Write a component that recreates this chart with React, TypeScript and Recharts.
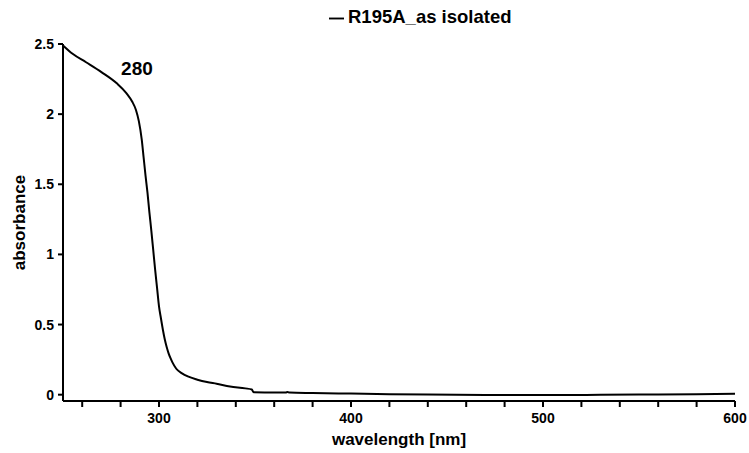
import React from 'react';
import { LineChart, Line, XAxis, YAxis, Legend, ReferenceDot, Label } from 'recharts';

const wavelengths = [250, 255, 262, 270, 278, 283, 286, 288, 289.5, 291, 292, 293, 294, 295, 296, 297, 298, 299, 300, 301, 302, 303, 304, 305, 306, 307, 309, 312, 315, 320, 325, 330, 337, 345, 348.3, 349.3, 355, 366, 367, 368, 380, 400, 420, 440, 470, 500, 530, 560, 600];
const absorbance = [2.49, 2.43, 2.37, 2.30, 2.22, 2.15, 2.09, 2.03, 1.95, 1.82, 1.69, 1.56, 1.44, 1.30, 1.17, 1.03, 0.89, 0.76, 0.63, 0.545, 0.465, 0.395, 0.34, 0.295, 0.26, 0.23, 0.185, 0.152, 0.13, 0.107, 0.09, 0.078, 0.059, 0.045, 0.037, 0.017, 0.016, 0.016, 0.019, 0.015, 0.012, 0.008, 0.004, 0.001, -0.002, -0.003, -0.001, 0.002, 0.006];

const xTicks = [260, 280, 300, 320, 340, 360, 380, 400, 420, 440, 460, 480, 500, 520, 540, 560, 580, 600];
const xLabelled = [300, 400, 500, 600];
const yTicks = [0, 0.5, 1, 1.5, 2, 2.5];
const seriesName = 'R195A_as isolated';
const peakLabel = '280';

const data = wavelengths.map((wl, i) => ({ wl, abs: absorbance[i] }));

const FONT = '"Liberation Sans", Arial, sans-serif';

export default function App() {
  return (
    <div style={{ position: 'absolute', left: 0, top: 0, width: 749, height: 453, background: '#fff' }}>
      <LineChart width={749} height={453} data={data} margin={{ top: 44, right: 14, left: 0, bottom: 0 }}>
        <XAxis
          type="number"
          dataKey="wl"
          domain={[250, 600]}
          ticks={xTicks}
          tickFormatter={(v: number) => (xLabelled.includes(v) ? String(v) : '')}
          height={52}
          stroke="#000"
          strokeWidth={2}
          tickSize={6}
          tickMargin={6}
          tick={{ fill: '#000', fontSize: 14, fontWeight: 'bold', fontFamily: FONT }}
          interval={0}
        >
          <Label value="wavelength [nm]" position="insideBottom" offset={8} style={{ fill: '#000', fontSize: 17, fontWeight: 'bold', fontFamily: FONT }} />
        </XAxis>
        <YAxis
          type="number"
          domain={[-0.045, 2.5]}
          ticks={yTicks}
          tickFormatter={(v: number) => String(v)}
          width={63}
          stroke="#000"
          strokeWidth={2}
          tickSize={5}
          tickMargin={4}
          tick={{ fill: '#000', fontSize: 14, fontWeight: 'bold', fontFamily: FONT }}
          interval={0}
          allowDataOverflow
        >
          <Label value="absorbance" angle={-90} position="insideLeft" offset={19} style={{ fill: '#000', fontSize: 17, fontWeight: 'bold', fontFamily: FONT, textAnchor: 'middle' }} />
        </YAxis>
        <Legend
          verticalAlign="middle"
          align="center"
          layout="horizontal"
          iconType="plainline"
          iconSize={15}
          wrapperStyle={{ top: 6, left: 329, width: 'auto', fontFamily: FONT, fontSize: 18.5, fontWeight: 'bold' }}
          formatter={(value: string) => <span style={{ color: '#000' }}>{value}</span>}
        />
        <ReferenceDot x={288.5} y={2.33} r={0} fill="none" stroke="none" ifOverflow="visible">
          <Label value={peakLabel} position="center" style={{ fill: '#000', fontSize: 19, fontWeight: 'bold', fontFamily: FONT }} />
        </ReferenceDot>
        <Line
          type="monotone"
          dataKey="abs"
          name={seriesName}
          stroke="#000"
          strokeWidth={2}
          dot={false}
          isAnimationActive={false}
        />
      </LineChart>
    </div>
  );
}
